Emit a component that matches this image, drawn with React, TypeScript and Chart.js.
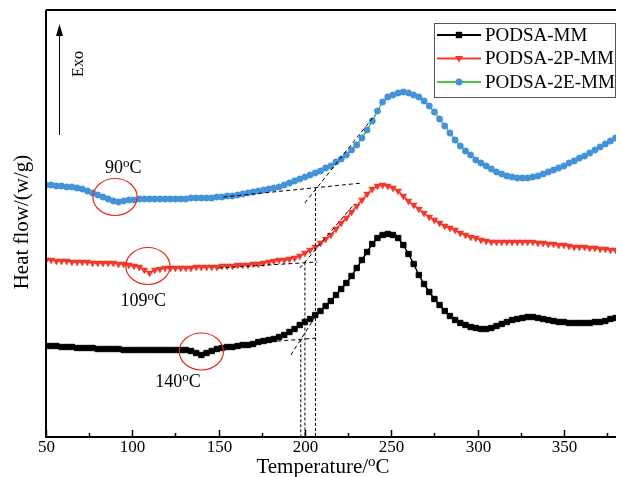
import React, { useEffect, useRef } from "react";
import { Chart, registerables } from "chart.js";

Chart.register(...registerables);

// Temperature grid (°C) shared by the three DSC traces
const temperatures = [
  50, 53, 56, 59, 62, 65, 68, 71, 74, 77,
  80, 83, 86, 89, 92, 95, 98, 101, 104, 107,
  110, 113, 116, 119, 122, 125, 128, 131, 134, 137,
  140, 143, 146, 149, 152, 155, 158, 161, 164, 167,
  170, 173, 176, 179, 182, 185, 188, 191, 194, 197,
  200, 203, 206, 209, 212, 215, 218, 221, 224, 227,
  230, 233, 236, 239, 242, 245, 248, 251, 254, 257,
  260, 263, 266, 269, 272, 275, 278, 281, 284, 287,
  290, 293, 296, 299, 302, 305, 308, 311, 314, 317,
  320, 323, 326, 329, 332, 335, 338, 341, 344, 347,
  350, 353, 356, 359, 362, 365, 368, 371, 374, 377,
  380,
];

// Heat flow (W/g, curves offset vertically)
const podsaMM = [
  0.91, 0.91, 0.91, 0.90, 0.90, 0.90, 0.89, 0.89, 0.89, 0.89,
  0.88, 0.88, 0.88, 0.88, 0.88, 0.87, 0.87, 0.87, 0.87, 0.87,
  0.87, 0.87, 0.87, 0.87, 0.87, 0.87, 0.87, 0.87, 0.86, 0.84,
  0.82, 0.84, 0.86, 0.88, 0.89, 0.90, 0.90, 0.91, 0.92, 0.92,
  0.93, 0.95, 0.96, 0.97, 0.98, 1.00, 1.02, 1.05, 1.08, 1.12,
  1.15, 1.18, 1.22, 1.26, 1.31, 1.36, 1.42, 1.48, 1.54, 1.61,
  1.69, 1.77, 1.85, 1.93, 1.99, 2.02, 2.03, 2.02, 1.99, 1.92,
  1.83, 1.73, 1.62, 1.53, 1.45, 1.38, 1.32, 1.26, 1.21, 1.17,
  1.14, 1.12, 1.10, 1.09, 1.08, 1.08, 1.09, 1.11, 1.13, 1.15,
  1.17, 1.18, 1.19, 1.20, 1.20, 1.19, 1.18, 1.17, 1.16, 1.15,
  1.15, 1.14, 1.14, 1.14, 1.14, 1.14, 1.15, 1.15, 1.16, 1.18,
  1.19,
];

const podsa2PMM = [
  1.77, 1.77, 1.76, 1.76, 1.76, 1.75, 1.75, 1.75, 1.75, 1.74,
  1.74, 1.74, 1.74, 1.74, 1.73, 1.73, 1.72, 1.71, 1.70, 1.67,
  1.64, 1.67, 1.68, 1.69, 1.69, 1.69, 1.69, 1.69, 1.69, 1.70,
  1.70, 1.70, 1.70, 1.70, 1.71, 1.71, 1.71, 1.72, 1.72, 1.72,
  1.73, 1.73, 1.74, 1.75, 1.76, 1.77, 1.77, 1.78, 1.79, 1.81,
  1.84, 1.87, 1.90, 1.94, 1.98, 2.02, 2.08, 2.14, 2.19, 2.25,
  2.31, 2.37, 2.43, 2.48, 2.51, 2.52, 2.51, 2.49, 2.46, 2.41,
  2.36, 2.32, 2.28, 2.24, 2.20, 2.17, 2.14, 2.11, 2.09, 2.07,
  2.04, 2.02, 2.00, 1.99, 1.97, 1.96, 1.95, 1.95, 1.95, 1.95,
  1.95, 1.95, 1.95, 1.95, 1.95, 1.94, 1.94, 1.93, 1.93, 1.92,
  1.92, 1.91, 1.90, 1.90, 1.90, 1.89, 1.89, 1.88, 1.88, 1.87,
  1.87,
];

const podsa2EMM = [
  2.52, 2.52, 2.51, 2.51, 2.50, 2.50, 2.49, 2.48, 2.46, 2.44,
  2.42, 2.40, 2.38, 2.36, 2.35, 2.36, 2.37, 2.37, 2.38, 2.38,
  2.38, 2.38, 2.38, 2.38, 2.38, 2.38, 2.38, 2.38, 2.39, 2.39,
  2.39, 2.39, 2.39, 2.40, 2.40, 2.41, 2.41, 2.42, 2.43, 2.44,
  2.45, 2.46, 2.47, 2.48, 2.49, 2.50, 2.52, 2.54, 2.56, 2.58,
  2.60, 2.62, 2.64, 2.66, 2.69, 2.71, 2.75, 2.78, 2.82, 2.87,
  2.92, 2.99, 3.07, 3.16, 3.26, 3.35, 3.40, 3.42, 3.44, 3.45,
  3.44, 3.42, 3.40, 3.36, 3.31, 3.25, 3.18, 3.11, 3.04, 2.97,
  2.91, 2.86, 2.82, 2.77, 2.74, 2.71, 2.68, 2.65, 2.63, 2.61,
  2.60, 2.59, 2.59, 2.59, 2.60, 2.61, 2.63, 2.65, 2.67, 2.69,
  2.71, 2.74, 2.76, 2.79, 2.81, 2.84, 2.87, 2.90, 2.93, 2.96,
  2.99,
];

const seriesLabels = ["PODSA-MM", "PODSA-2P-MM", "PODSA-2E-MM"];

// Onset construction: baseline tangent, inflection tangent, onset temperature
const baselineTangents = [
  [[155.7, 0.92], [207.3, 0.99]],
  [[149.9, 1.69], [207.3, 1.75]],
  [[152.8, 2.40], [233.2, 2.54]],
];
const inflectionTangents = [
  [[191.8, 0.82], [208.5, 1.27]],
  [[197.0, 1.69], [228.6, 2.33]],
  [[199.9, 2.34], [240.6, 3.22]],
];
const onsetTemps = [197.6, 200.0, 206.1];
const onsetHeatFlow = [0.977, 1.745, 2.49];

// Glass transition marks (°C) and the heat flow where each is circled
const transitionTemps = [140, 109, 90];
const transitionHeatFlow = [0.855, 1.71, 2.40];

// Axis ticks
const xTickValues = [50, 75, 100, 125, 150, 175, 200, 225, 250, 275, 300, 325, 350, 375];
const xTickLabels = ["50", "", "100", "", "150", "", "200", "", "250", "", "300", "", "350", ""];

const X_MIN = 50;
const X_MAX = 380.2;
const Y_MIN = 0;
const Y_MAX = 4.27;

const SERIF = '"Liberation Serif", "Times New Roman", serif';
const BLACK = "#000000";
const RED = "#EF3A2E";
const BLUE = "#4493D8";
const GREEN = "#52C247";
const RING = "#E5261E";

function pts(values: number[]) {
  return temperatures.map((t, i) => ({ x: t, y: values[i] }));
}

function seg(p: number[][]) {
  return p.map(([x, y]) => ({ x, y }));
}

function drawSup(
  ctx: CanvasRenderingContext2D,
  base: string,
  sup: string,
  tail: string,
  x: number,
  y: number,
  size: number
) {
  const supSize = Math.round(size * 0.7);
  ctx.font = `${size}px ${SERIF}`;
  const w1 = ctx.measureText(base).width;
  const w3 = ctx.measureText(tail).width;
  ctx.font = `${supSize}px ${SERIF}`;
  const w2 = ctx.measureText(sup).width;
  const x0 = x - (w1 + w2 + w3) / 2;
  ctx.textAlign = "left";
  ctx.textBaseline = "alphabetic";
  ctx.font = `${size}px ${SERIF}`;
  ctx.fillText(base, x0, y);
  ctx.font = `${supSize}px ${SERIF}`;
  ctx.fillText(sup, x0 + w1, y - size * 0.33);
  ctx.font = `${size}px ${SERIF}`;
  ctx.fillText(tail, x0 + w1 + w2, y);
}

function drawMarker(ctx: CanvasRenderingContext2D, kind: string, x: number, y: number, color: string) {
  ctx.save();
  ctx.fillStyle = color;
  ctx.beginPath();
  if (kind === "rect") {
    ctx.rect(x - 3.2, y - 3.2, 6.4, 6.4);
  } else if (kind === "tri") {
    ctx.moveTo(x - 4, y - 2.5);
    ctx.lineTo(x + 4, y - 2.5);
    ctx.lineTo(x, y + 4);
    ctx.closePath();
  } else {
    ctx.arc(x, y, 3.5, 0, Math.PI * 2);
  }
  ctx.fill();
  ctx.restore();
}

const decorations = {
  id: "dscDecorations",
  afterDraw(chart: any) {
    const ctx: CanvasRenderingContext2D = chart.ctx;
    const xs = chart.scales.x;
    const ys = chart.scales.y;
    const area = chart.chartArea;
    ctx.save();

    // frame: left, bottom and top lines
    ctx.strokeStyle = BLACK;
    ctx.lineWidth = 2;
    ctx.beginPath();
    ctx.moveTo(area.left, area.top);
    ctx.lineTo(area.right, area.top);
    ctx.moveTo(area.left, area.top);
    ctx.lineTo(area.left, area.bottom);
    ctx.moveTo(area.left - 1, area.bottom);
    ctx.lineTo(area.right, area.bottom);
    ctx.stroke();

    // inward ticks and tick labels
    ctx.lineWidth = 1.5;
    ctx.fillStyle = BLACK;
    xTickValues.forEach((v, i) => {
      const px = Math.round(xs.getPixelForValue(v)) + 0.5;
      const len = xTickLabels[i] ? 7 : 4;
      ctx.beginPath();
      ctx.moveTo(px, area.bottom);
      ctx.lineTo(px, area.bottom - len);
      ctx.stroke();
      if (xTickLabels[i]) {
        ctx.font = `17px ${SERIF}`;
        ctx.textAlign = "center";
        ctx.textBaseline = "alphabetic";
        ctx.fillText(xTickLabels[i], px, area.bottom + 15);
      }
    });

    // axis titles
    drawSup(ctx, "Temperature/", "o", "C", 323, 473, 21);
    ctx.save();
    ctx.translate(22, 222);
    ctx.rotate(-Math.PI / 2);
    ctx.font = `21px ${SERIF}`;
    ctx.textAlign = "center";
    ctx.textBaseline = "middle";
    ctx.fillText("Heat flow/(w/g)", 0, 0);
    ctx.restore();

    // exothermic direction arrow
    ctx.strokeStyle = BLACK;
    ctx.lineWidth = 1;
    ctx.beginPath();
    ctx.moveTo(59.5, 135);
    ctx.lineTo(59.5, 34);
    ctx.stroke();
    ctx.beginPath();
    ctx.moveTo(59.5, 24);
    ctx.lineTo(56, 36);
    ctx.lineTo(63, 36);
    ctx.closePath();
    ctx.fill();
    ctx.save();
    ctx.translate(79, 64);
    ctx.rotate(-Math.PI / 2);
    ctx.font = `16px ${SERIF}`;
    ctx.textAlign = "center";
    ctx.textBaseline = "middle";
    ctx.fillText("Exo", 0, 0);
    ctx.restore();

    // circled transitions with their labels
    const labelOffsets = [
      [-13.6, -0.355],
      [-2.7, -0.40],
      [4.8, 0.24],
    ];
    transitionTemps.forEach((t, i) => {
      const cx = xs.getPixelForValue(t);
      const cy = ys.getPixelForValue(transitionHeatFlow[i]);
      const rx = xs.getPixelForValue(t + 12.8) - cx;
      const ry = cy - ys.getPixelForValue(transitionHeatFlow[i] + 0.185);
      ctx.strokeStyle = RING;
      ctx.lineWidth = 1.2;
      ctx.beginPath();
      ctx.ellipse(cx, cy, rx, ry, 0, 0, Math.PI * 2);
      ctx.stroke();
      const lx = xs.getPixelForValue(t + labelOffsets[i][0]);
      const ly = ys.getPixelForValue(transitionHeatFlow[i] + labelOffsets[i][1]);
      ctx.fillStyle = BLACK;
      drawSup(ctx, String(t), "o", "C", lx, ly, 18);
    });

    // legend
    const lx0 = 434.5;
    const ly0 = 23.5;
    ctx.fillStyle = "#ffffff";
    ctx.fillRect(lx0, ly0, 181, 74);
    ctx.strokeStyle = "#555555";
    ctx.lineWidth = 1;
    ctx.strokeRect(lx0, ly0, 181, 74);
    const rows = [
      { line: BLACK, mark: BLACK, kind: "rect" },
      { line: RED, mark: RED, kind: "tri" },
      { line: GREEN, mark: BLUE, kind: "circle" },
    ];
    rows.forEach((r, i) => {
      const y = 35 + i * 23.5;
      ctx.strokeStyle = r.line;
      ctx.lineWidth = 2;
      ctx.beginPath();
      ctx.moveTo(437, y);
      ctx.lineTo(481, y);
      ctx.stroke();
      drawMarker(ctx, r.kind, 459, y, r.mark);
      ctx.fillStyle = BLACK;
      ctx.font = `19px ${SERIF}`;
      ctx.textAlign = "left";
      ctx.textBaseline = "middle";
      ctx.fillText(seriesLabels[i], 485, y + 1);
    });

    ctx.restore();
  },
};

function dashed(data: { x: number; y: number }[], dash: number[]) {
  return {
    label: "",
    data,
    borderColor: BLACK,
    borderWidth: 1,
    borderDash: dash,
    pointRadius: 0,
    fill: false,
    order: 0,
  };
}

export default function App() {
  const canvasRef = useRef<HTMLCanvasElement>(null);

  useEffect(() => {
    document.body.style.margin = "0";
    const canvas = canvasRef.current;
    if (!canvas) return;

    const construction: any[] = [];
    baselineTangents.forEach((b) => construction.push(dashed(seg(b), [4, 3])));
    inflectionTangents.forEach((b) => construction.push(dashed(seg(b), [4, 3])));
    onsetTemps.forEach((t, i) =>
      construction.push(
        dashed(
          [
            { x: t, y: onsetHeatFlow[i] },
            { x: t, y: Y_MIN },
          ],
          [3, 2]
        )
      )
    );

    const chart = new Chart(canvas, {
      type: "line",
      data: {
        datasets: [
          {
            label: seriesLabels[0],
            data: pts(podsaMM),
            borderColor: BLACK,
            backgroundColor: BLACK,
            borderWidth: 1.5,
            pointStyle: "rect",
            pointRadius: 3.8,
            pointBorderWidth: 1,
            pointBackgroundColor: BLACK,
            pointBorderColor: BLACK,
            order: 1,
          },
          {
            label: seriesLabels[1],
            data: pts(podsa2PMM),
            borderColor: RED,
            backgroundColor: RED,
            borderWidth: 1.5,
            pointStyle: "triangle",
            pointRotation: 180,
            pointRadius: 4,
            pointBorderWidth: 0.5,
            pointBackgroundColor: RED,
            pointBorderColor: RED,
            order: 1,
          },
          {
            label: seriesLabels[2],
            data: pts(podsa2EMM),
            borderColor: GREEN,
            backgroundColor: BLUE,
            borderWidth: 1.5,
            pointStyle: "circle",
            pointRadius: 3.2,
            pointBorderWidth: 0.5,
            pointBackgroundColor: BLUE,
            pointBorderColor: BLUE,
            order: 1,
          },
          ...construction,
        ] as any,
      },
      options: {
        responsive: false,
        animation: false,
        devicePixelRatio: 1,
        layout: { padding: { left: 46, top: 10, right: 0, bottom: 40 } },
        scales: {
          x: { type: "linear", min: X_MIN, max: X_MAX, display: false },
          y: { type: "linear", min: Y_MIN, max: Y_MAX, display: false },
        },
        plugins: {
          legend: { display: false },
          tooltip: { enabled: false },
        },
        elements: { line: { tension: 0 } },
      },
      plugins: [decorations],
    });

    return () => chart.destroy();
  }, []);

  return (
    <div style={{ width: 621, height: 477 }}>
      <canvas ref={canvasRef} width={621} height={477} style={{ display: "block" }} />
    </div>
  );
}
